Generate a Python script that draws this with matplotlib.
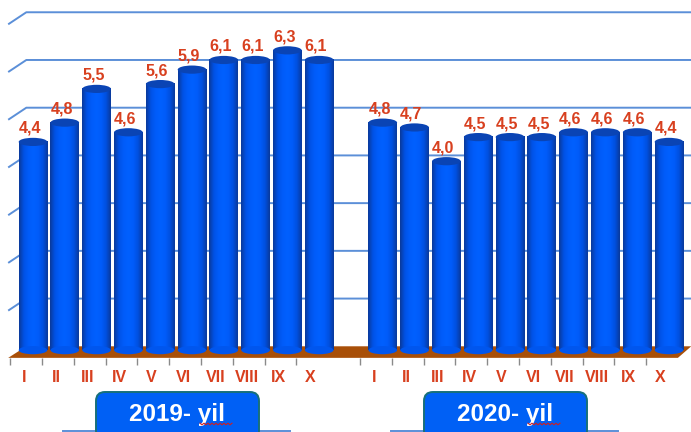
import numpy as np
import matplotlib
matplotlib.use("Agg")
import matplotlib.pyplot as plt
from matplotlib.patches import Ellipse, FancyBboxPatch, Polygon
from matplotlib.colors import LinearSegmentedColormap
from matplotlib.transforms import Affine2D

months = ["I", "II", "III", "IV", "V", "VI", "VII", "VIII", "IX", "X"]
vals_2019 = [4.4, 4.8, 5.5, 4.6, 5.6, 5.9, 6.1, 6.1, 6.3, 6.1]
vals_2020 = [4.8, 4.7, 4.0, 4.5, 4.5, 4.5, 4.6, 4.6, 4.6, 4.4]
years = ["2019- ", "2020- "]
grid_levels = [1, 2, 3, 4, 5, 6, 7]

W, H = 691, 432
plt.rcParams["font.family"] = ["Liberation Sans", "DejaVu Sans"]

# pixel scale of the picture
x0, dx = 33.0, 31.8
y0, dy = 354.0, 48.2
ax_bottom = 358

fig = plt.figure(figsize=(W / 100, H / 100), dpi=100)
ax = fig.add_axes([0, (H - ax_bottom) / H, 1, ax_bottom / H])
xlim = (-x0 / dx, (W - x0) / dx)
ylim = ((y0 - ax_bottom) / dy, y0 / dy)
for s in ax.spines.values():
    s.set_visible(False)

pos = np.r_[np.arange(10), np.arange(11, 21)]
vals = vals_2019 + vals_2020
labels = months + months

# depth of the 3d wall, in data units
depth_x = 0.57
depth_y = 0.25
left = -0.78

# grid lines on back wall
for g in grid_levels:
    yb = g * 0.99 + 0.16
    ax.plot([left, left + depth_x, 22], [yb - depth_y, yb, yb],
            color="#5b8fd8", lw=1.4, zorder=1, solid_capstyle="butt")

# floor
ax.add_patch(Polygon([(left, -0.08), (left + depth_x, 0.16), (20.7, 0.16), (20.28, -0.08)],
                     closed=True, fc="#a84f08", ec="none", zorder=2))

# cylinder bars
cmap = LinearSegmentedColormap.from_list(
    "cyl", ["#0a3a9c", "#0052e6", "#005cfa", "#0060ff", "#005cfa", "#0050e0", "#0a3a9c"])
grad = np.linspace(0, 1, 64).reshape(1, -1)
w = 0.9
cap = 0.17
base = 0.08
for p, v in zip(pos, vals):
    ax.imshow(grad, cmap=cmap, extent=(p - w / 2, p + w / 2, base, v), aspect="auto", zorder=3)
    ax.add_patch(Ellipse((p, base), w, cap, fc="#0056ee", ec="none", zorder=3))
    ax.add_patch(Ellipse((p, v), w, cap, fc="#0a44b4", ec="none", zorder=4))
    ax.text(p - 0.1, v + 0.28, f"{v:.1f}".replace(".", ","), ha="center", va="center",
            color="#d8401f", fontsize=11.5, fontweight="bold", zorder=5)
ax.set_xlim(xlim)
ax.set_ylim(ylim)

# ticks sit left of the bars, month labels between them
ax.set_yticks([])
ax.set_xticks(pos - 0.72)
ax.set_xticklabels([])
ax.tick_params(axis="x", which="major", length=5, width=1, color="#8a8a8a")
ax.set_xticks(pos - 0.27, labels=labels, minor=True)
ax.tick_params(axis="x", which="minor", length=0, pad=9, labelsize=11.5, labelcolor="#d8401f")
for t in ax.get_xticklabels(minor=True):
    t.set_fontweight("bold")

# year boxes, placed in picture pixels
px = Affine2D().scale(1, -1).translate(0, H)
for year, bx in zip(years, [96, 424]):
    ax.plot([bx - 33, bx + 194], [431, 431], color="#5b8fd8", lw=1.4,
            transform=px, clip_on=False, zorder=5)
    box = FancyBboxPatch((bx + 6, 398), 151, 36, boxstyle="round,pad=6,rounding_size=9",
                         fc="#0060f5", ec="#17707a", lw=1.4,
                         transform=px, clip_on=False, zorder=6)
    ax.add_patch(box)
    ax.text(bx + 81, 414, year + "yil", ha="center", va="center", color="white",
            fontsize=17.5, fontweight="bold", transform=px, zorder=7, clip_on=False)
    xs = np.arange(bx + 104, bx + 137, 2)
    ys = 424 + np.where(np.arange(len(xs)) % 2 == 0, -0.8, 0.8)
    ax.plot(xs, ys, color="#d02020", lw=0.8, transform=px, clip_on=False, zorder=8)

fig.savefig("out.png", dpi=100)
